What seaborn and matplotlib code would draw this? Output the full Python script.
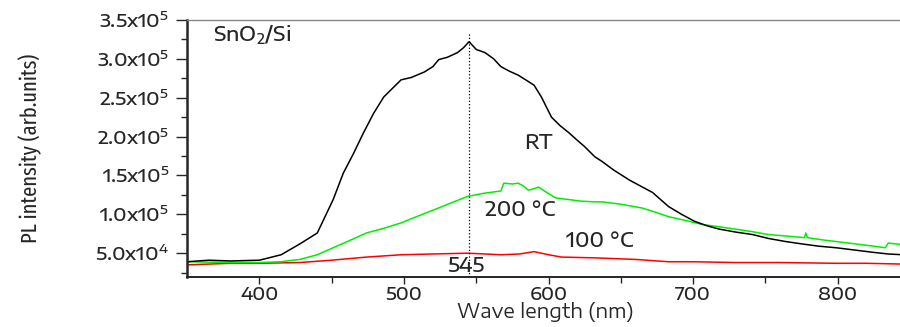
import pandas as pd
import matplotlib.pyplot as plt
import seaborn as sns

# PL spectra (wavelength in nm, intensity in arb. units)
rt_wl = [350, 365, 380, 400, 415, 428, 440, 451, 458, 465, 472, 479, 486, 492, 498,
         505, 514, 520, 524, 530, 537, 541, 545, 550, 556, 562, 567, 573, 579, 585,
         590, 595, 602, 608, 614, 620, 625, 632, 637, 645, 656, 664, 672, 683, 692,
         701, 710, 718, 730, 741, 752, 764, 775, 787, 799, 812, 825, 835, 845]
rt_int = [3.9e4, 4.1e4, 4.0e4, 4.1e4, 4.8e4, 6.2e4, 7.6e4, 1.19e5, 1.53e5, 1.78e5, 2.05e5, 2.30e5, 2.51e5, 2.62e5, 2.73e5,
          2.76e5, 2.83e5, 2.90e5, 2.99e5, 3.02e5, 3.08e5, 3.14e5, 3.22e5, 3.12e5, 3.08e5, 3.00e5, 2.90e5, 2.84e5, 2.79e5, 2.72e5,
          2.66e5, 2.51e5, 2.25e5, 2.14e5, 2.05e5, 1.95e5, 1.87e5, 1.74e5, 1.68e5, 1.57e5, 1.44e5, 1.36e5, 1.28e5, 1.10e5, 1.00e5,
          9.1e4, 8.5e4, 8.1e4, 7.7e4, 7.4e4, 6.9e4, 6.5e4, 6.2e4, 5.9e4, 5.7e4, 5.4e4, 5.1e4, 4.9e4, 4.8e4]

t200_wl = [350, 380, 400, 415, 428, 440, 451, 462, 474, 486, 498, 510, 521, 533, 544,
           555, 563, 567, 569, 575, 579, 583, 586, 590, 593, 598, 605, 614, 622, 632,
           637, 650, 665, 675, 683, 695, 706, 718, 729, 740, 752, 765, 777, 778, 779,
           790, 799, 812, 825, 833, 835, 845]
t200_int = [3.9e4, 3.8e4, 3.8e4, 3.9e4, 4.2e4, 4.8e4, 5.7e4, 6.6e4, 7.6e4, 8.2e4, 8.9e4, 9.8e4, 1.06e5, 1.15e5, 1.23e5,
            1.27e5, 1.29e5, 1.30e5, 1.40e5, 1.39e5, 1.40e5, 1.36e5, 1.31e5, 1.33e5, 1.35e5, 1.29e5, 1.21e5, 1.19e5, 1.17e5, 1.16e5,
            1.16e5, 1.13e5, 1.08e5, 1.02e5, 9.7e4, 9.2e4, 8.7e4, 8.4e4, 8.1e4, 7.8e4, 7.4e4, 7.2e4, 7.0e4, 7.6e4, 7.0e4,
            6.7e4, 6.5e4, 6.2e4, 5.9e4, 5.7e4, 6.3e4, 6.1e4]

t100_wl = [350, 380, 400, 428, 450, 474, 498, 520, 544, 556, 567, 580, 590, 600, 609,
           632, 660, 683, 700, 729, 760, 799, 820, 845]
t100_int = [3.5e4, 3.7e4, 3.7e4, 3.8e4, 4.1e4, 4.5e4, 4.8e4, 4.9e4, 5.0e4, 4.9e4, 4.8e4, 4.9e4, 5.2e4, 4.8e4, 4.5e4,
            4.4e4, 4.2e4, 3.9e4, 3.9e4, 3.8e4, 3.8e4, 3.7e4, 3.7e4, 3.6e4]

yticks = [5.0e4, 1.0e5, 1.5e5, 2.0e5, 2.5e5, 3.0e5, 3.5e5]
ytick_labels = [r'5.0x10$^4$', r'1.0x10$^5$', r'1.5x10$^5$', r'2.0x10$^5$',
                r'2.5x10$^5$', r'3.0x10$^5$', r'3.5x10$^5$']
xticks = [400, 500, 600, 700, 800]
peak_wl = 545

df = pd.concat([
    pd.DataFrame({'wl': rt_wl, 'I': rt_int, 'sample': 'RT'}),
    pd.DataFrame({'wl': t200_wl, 'I': t200_int, 'sample': '200'}),
    pd.DataFrame({'wl': t100_wl, 'I': t100_int, 'sample': '100'}),
], ignore_index=True)

sns.set_style('ticks')
# the original figure is stretched sideways, so use a wide face where we can
wide = ['Encode Sans Expanded', 'DejaVu Sans']
narrow = ['Fira Sans Extra Condensed', 'Archivo Narrow', 'Liberation Sans']
plt.rcParams['font.family'] = wide
plt.rcParams['font.weight'] = 'medium'
plt.rcParams['mathtext.fontset'] = 'custom'
plt.rcParams['mathtext.rm'] = 'Encode Sans Expanded:medium'
plt.rcParams['mathtext.it'] = 'Encode Sans Expanded:medium'

fig = plt.figure(figsize=(9, 3.27), dpi=100)
ax = fig.add_axes([0.208, 0.152, 0.795, 0.787])

palette = {'RT': 'black', '200': '#00ee00', '100': '#ff0000'}
sns.lineplot(data=df, x='wl', y='I', hue='sample', palette=palette,
             hue_order=['100', '200', 'RT'], linewidth=1.1, legend=False, ax=ax,
             estimator=None, sort=False)

ax.vlines(peak_wl, 1.9e4, 3.35e5, colors='black', linestyles=':', linewidth=0.9)

ax.set_xlim(350, 845)
ax.set_ylim(1.9e4, 3.5e5)
ax.set_xticks(xticks)
ax.set_xticks([450, 550, 650, 750], minor=True)
ax.set_yticks(yticks)
ax.set_yticklabels(ytick_labels)
ax.set_yticks([2.5e4, 7.5e4, 1.25e5, 1.75e5, 2.25e5, 2.75e5, 3.25e5], minor=True)
ax.tick_params(axis='x', which='major', direction='out', length=5, width=1,
               labelsize=13, pad=1)
ax.tick_params(axis='x', which='minor', direction='out', length=4, width=1)
ax.tick_params(axis='y', which='major', direction='out', length=8, width=1,
               labelsize=13.5, pad=5)
ax.tick_params(axis='y', which='minor', direction='out', length=4, width=1)

ax.spines['left'].set_linewidth(1.8)
ax.spines['bottom'].set_linewidth(1.4)
ax.spines['top'].set_color('#888888')
ax.spines['top'].set_linewidth(1.0)
ax.spines['right'].set_visible(False)

ax.set_xlabel('Wave length (nm)', fontsize=14, labelpad=-1.5)
ax.set_ylabel('PL intensity (arb.units)', fontsize=16, family=narrow, weight='normal')
ax.yaxis.set_label_coords(-0.203, 0.5)

ax.text(368, 3.3e5, r'SnO$_2$/Si', fontsize=14.5, ha='left', va='center')
ax.text(593, 1.92e5, 'RT', fontsize=14.5, ha='center', va='center')
ax.text(556, 1.06e5, '200 °C', fontsize=14.5, ha='left', va='center')
ax.text(612, 6.6e4, '100 °C', fontsize=14.5, ha='left', va='center')
ax.text(543, 3.4e4, '545', fontsize=14.5, ha='center', va='center')

fig.savefig('out.png', dpi=100)
